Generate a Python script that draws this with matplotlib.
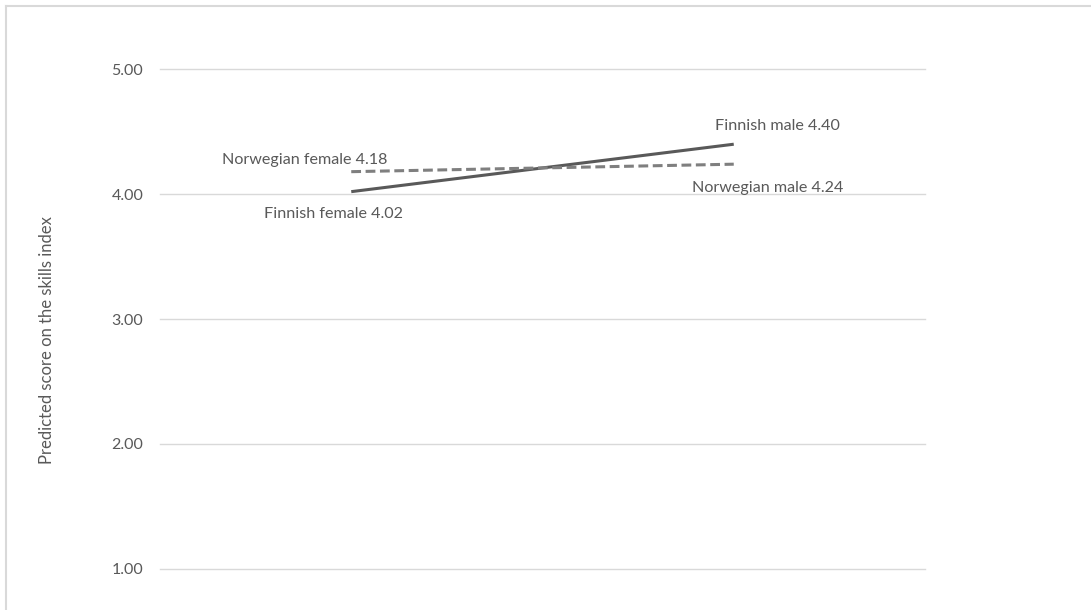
import matplotlib.pyplot as plt
from matplotlib.lines import Line2D

# Data
groups = ['Female', 'Male']
finnish = [4.02, 4.40]
norwegian = [4.18, 4.24]
finnish_labels = ['Finnish female 4.02', 'Finnish male 4.40']
norwegian_labels = ['Norwegian female 4.18', 'Norwegian male 4.24']
y_ticks = [1.0, 2.0, 3.0, 4.0, 5.0]

W, H = 1091, 610
plt.rcParams['font.family'] = ['Lato', 'DejaVu Sans']
text_color = '#595959'

fig = plt.figure(figsize=(W / 100, H / 100), dpi=100)

# Axes placed in pixel terms
left, right = 160, 925
top, bottom = 69.3, 568.7
ax = fig.add_axes([left / W, 1 - bottom / H, (right - left) / W, (bottom - top) / H])

x = range(len(groups))
ax.plot(x, finnish, color='#595959', linewidth=2.2, solid_capstyle='butt')
ax.plot(x, norwegian, color='#7f7f7f', linewidth=2.2, linestyle=(0, (3.2, 1.5)))

ax.set_xlim(-0.5, 1.5)
ax.set_ylim(1, 5)
ax.set_yticks(y_ticks)
ax.set_yticklabels([f'{v:.2f}' for v in y_ticks])
ax.set_xticks([])
ax.grid(axis='y', color='#d9d9d9', linewidth=1)
for gl in ax.get_ygridlines():
    gl.set_clip_on(False)
ax.set_axisbelow(True)
for s in ax.spines.values():
    s.set_visible(False)
ax.tick_params(axis='y', length=0, pad=12, labelsize=11.5, labelcolor=text_color)

fig.text(47 / W, 1 - 340 / H, 'Predicted score on the skills index', rotation=90,
         ha='center', va='center', fontsize=12, color=text_color)

# Point labels (pixel offsets from the data points)
offsets_fin = [(-18, -22.5), (44, 18)]
offsets_nor = [(-47, 12), (34, -24)]
for i in x:
    ax.annotate(finnish_labels[i], (i, finnish[i]), xytext=offsets_fin[i], textcoords='offset pixels',
                ha='center', va='center', fontsize=11.6, color=text_color)
    ax.annotate(norwegian_labels[i], (i, norwegian[i]), xytext=offsets_nor[i], textcoords='offset pixels',
                ha='center', va='center', fontsize=11.6, color=text_color)

# Chart border (cropped at right and bottom)
bx, by = 5.5 / W, 1 - 5.5 / H
fig.add_artist(Line2D([bx, 1], [by, by], color='#d9d9d9', linewidth=1.5, transform=fig.transFigure))
fig.add_artist(Line2D([bx, bx], [by, 0], color='#d9d9d9', linewidth=1.5, transform=fig.transFigure))

fig.savefig('out.png', dpi=100)
